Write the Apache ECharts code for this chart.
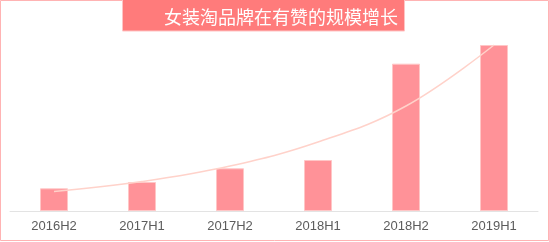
<!DOCTYPE html>
<html><head><meta charset="utf-8">
<script src="https://cdn.jsdelivr.net/npm/echarts@6/dist/echarts.min.js"></script>
<style>html,body{margin:0;padding:0;background:#fff}#c{width:549px;height:242px}</style>
</head><body><div id="c"></div>
<script>
const titleText = '女装淘品牌在有赞的规模增长';
const categories = ['2016H2','2017H1','2017H2','2018H1','2018H2','2019H1'];
const barValues = [22.7, 29, 42.7, 51, 147.3, 166];
const trendValues = [19.5, 29.5, 45, 69, 105, 166];

const chart = echarts.init(document.getElementById('c'), null, {renderer:'canvas'});
chart.setOption({
  animation: false,
  backgroundColor: '#fff',
  grid: {left: 10, right: 11, top: 45, bottom: 31, containLabel: false},
  xAxis: {
    type: 'category', data: categories,
    axisLine: {lineStyle: {color: '#e3e3e3', width: 1}},
    axisTick: {show: false},
    axisLabel: {color: '#5c5c5c', fontSize: 13, fontFamily: 'Liberation Sans, Arial, sans-serif', margin: 9}
  },
  yAxis: {type: 'value', min: 0, max: 166, show: false, splitLine: {show: false}},
  series: [
    {type: 'bar', data: barValues, barWidth: 28,
     itemStyle: {color: '#ff9298', borderColor: '#ffc6c6', borderWidth: 1}},
    {type: 'line', data: trendValues, smooth: 0.4, showSymbol: false, z: 5,
     lineStyle: {color: '#ffd2ca', width: 1.5}}
  ],
  graphic: [
    {type: 'rect', shape: {x: 0.5, y: 0.5, width: 548, height: 240}, silent: true,
     style: {fill: 'none', stroke: '#ffb3b3', lineWidth: 1}},
    {type: 'rect', shape: {x: 122.5, y: -1, width: 282, height: 32}, silent: true,
     style: {fill: '#ff7b7b', stroke: '#ffc4c4', lineWidth: 1}},
    {type: 'text', x: 281, y: 17, silent: true,
     style: {text: titleText, fill: '#ffffff', font: '18px "Noto Sans CJK SC", sans-serif', align: 'center', verticalAlign: 'middle'}}
  ]
});
</script></body></html>
